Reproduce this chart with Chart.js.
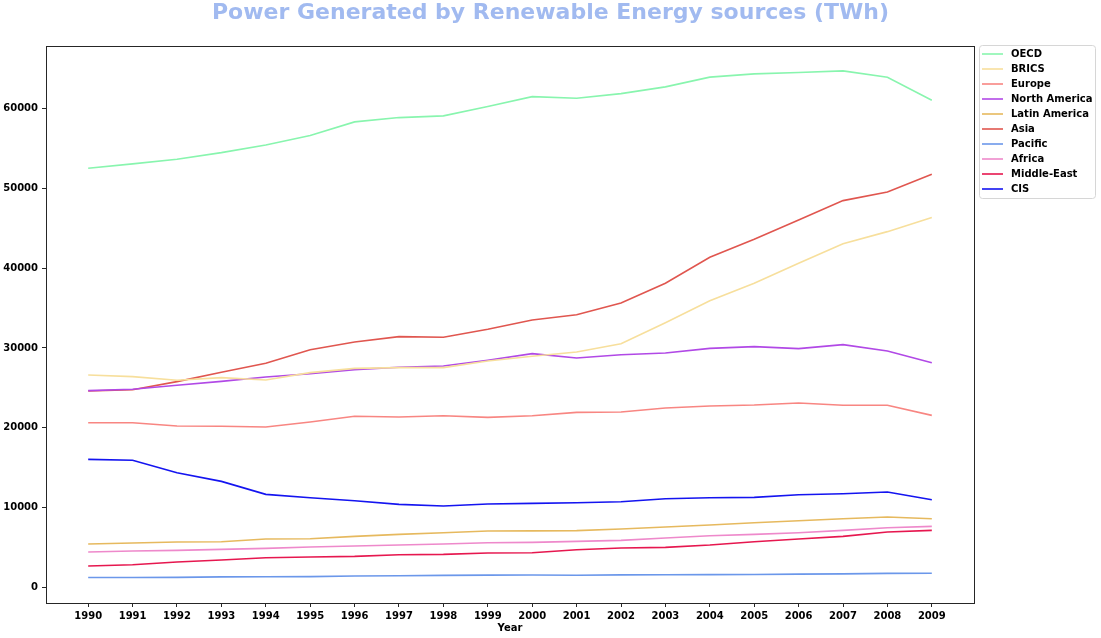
<!DOCTYPE html>
<html>
<head>
<meta charset="utf-8">
<title>Power Generated by Renewable Energy sources</title>
<script src="https://cdn.jsdelivr.net/npm/chart.js@4.4.0/dist/chart.umd.min.js"></script>
<style>
  html, body { margin: 0; padding: 0; background: #ffffff; }
  #wrap { width: 1101px; height: 638px; }
</style>
</head>
<body>
<div id="wrap"><canvas id="energyChart" width="1101" height="638"></canvas></div>
<script>
const years = [1990, 1991, 1992, 1993, 1994, 1995, 1996, 1997, 1998, 1999,
               2000, 2001, 2002, 2003, 2004, 2005, 2006, 2007, 2008, 2009];

const oecd         = [52550, 53090, 53670, 54500, 55470, 56640, 58360, 58900, 59110, 60280, 61530, 61330, 61910, 62750, 63970, 64380, 64550, 64760, 63970, 61080];
const brics        = [26610, 26400, 25940, 26270, 25980, 26900, 27440, 27530, 27530, 28360, 28950, 29490, 30530, 33170, 35930, 38110, 40620, 43080, 44590, 46350];
const europe       = [20620, 20620, 20210, 20170, 20080, 20710, 21420, 21340, 21500, 21290, 21500, 21920, 21960, 22460, 22720, 22840, 23090, 22800, 22800, 21540];
const northAmerica = [24640, 24810, 25310, 25810, 26360, 26770, 27280, 27570, 27740, 28450, 29280, 28740, 29150, 29370, 29950, 30160, 29910, 30410, 29620, 28150];
const latinAmerica = [5400, 5520, 5650, 5690, 6020, 6060, 6360, 6610, 6820, 7030, 7050, 7080, 7280, 7530, 7780, 8070, 8320, 8570, 8790, 8570];
const asia         = [24600, 24760, 25770, 26940, 28070, 29780, 30750, 31420, 31340, 32340, 33510, 34170, 35640, 38110, 41380, 43630, 46060, 48480, 49570, 51790];
const pacific      = [1200, 1190, 1220, 1280, 1300, 1310, 1380, 1420, 1470, 1500, 1510, 1490, 1530, 1540, 1560, 1570, 1620, 1660, 1720, 1730];
const africa       = [4390, 4520, 4600, 4730, 4850, 5020, 5150, 5270, 5400, 5560, 5610, 5730, 5860, 6150, 6440, 6610, 6820, 7110, 7450, 7610];
const middleEast   = [2640, 2800, 3140, 3390, 3680, 3770, 3850, 4060, 4100, 4270, 4310, 4690, 4900, 4980, 5270, 5690, 6020, 6360, 6900, 7110];
const cis          = [16020, 15900, 14350, 13260, 11630, 11210, 10830, 10370, 10170, 10420, 10500, 10580, 10710, 11080, 11210, 11250, 11590, 11710, 11920, 10960];

const seriesNames  = ['OECD', 'BRICS', 'Europe', 'North America', 'Latin America', 'Asia', 'Pacific', 'Africa', 'Middle-East', 'CIS'];
const seriesValues = [oecd, brics, europe, northAmerica, latinAmerica, asia, pacific, africa, middleEast, cis];
const seriesColors = ['#88f5ae', '#f7df9c', '#f88682', '#b149e6', '#e6b95e', '#e0564f', '#6b97ea', '#ee89cb', '#e6174f', '#1414f0'];

const yTicks = [0, 10000, 20000, 30000, 40000, 50000, 60000];
const fontFamily = '"DejaVu Sans", sans-serif';

// reserve room on the right for the legend without shifting the title
const rightSpacer = {
    id: 'rightSpacer',
    beforeInit(chart) {
        Chart.layouts.addBox(chart, {
            position: 'right',
            weight: 1000,
            fullSize: false,
            options: {},
            width: 127, height: 0,
            left: 0, top: 0, right: 0, bottom: 0,
            update(maxWidth, maxHeight) {
                this.width = 127;
                this.height = maxHeight;
            },
            getPadding() { return { left: 0, top: 0, right: 0, bottom: 0 }; },
            isHorizontal() { return false; },
            draw() {}
        });
    }
};

// frame around the plot area (matplotlib style)
const frameBox = {
    id: 'frameBox',
    afterDatasetsDraw(chart) {
        const { ctx, chartArea: a } = chart;
        ctx.save();
        ctx.strokeStyle = '#262626';
        ctx.lineWidth = 1;
        ctx.strokeRect(Math.round(a.left) + 0.5, Math.round(a.top) + 0.5,
                       Math.round(a.right - a.left), Math.round(a.bottom - a.top));
        ctx.restore();
    }
};

// legend drawn outside the plot, top right, with a light frame
const boxLegend = {
    id: 'boxLegend',
    afterDraw(chart) {
        const ctx = chart.ctx;
        const left = 979.5, top = 45.5, w = 116, h = 153, r = 3;
        ctx.save();
        ctx.beginPath();
        ctx.moveTo(left + r, top);
        ctx.lineTo(left + w - r, top);
        ctx.arcTo(left + w, top, left + w, top + r, r);
        ctx.lineTo(left + w, top + h - r);
        ctx.arcTo(left + w, top + h, left + w - r, top + h, r);
        ctx.lineTo(left + r, top + h);
        ctx.arcTo(left, top + h, left, top + h - r, r);
        ctx.lineTo(left, top + r);
        ctx.arcTo(left, top, left + r, top, r);
        ctx.closePath();
        ctx.fillStyle = 'rgba(255,255,255,0.8)';
        ctx.fill();
        ctx.strokeStyle = '#d6d6d6';
        ctx.lineWidth = 1;
        ctx.stroke();

        ctx.font = 'bold 10px ' + fontFamily;
        ctx.textBaseline = 'middle';
        ctx.textAlign = 'left';
        chart.data.datasets.forEach((ds, i) => {
            const y = 54 + i * 15;
            ctx.globalAlpha = 0.8;
            ctx.strokeStyle = ds.borderColor;
            ctx.lineWidth = 2;
            ctx.beginPath();
            ctx.moveTo(982, y);
            ctx.lineTo(1003, y);
            ctx.stroke();
            ctx.globalAlpha = 1;
            ctx.fillStyle = '#000000';
            ctx.fillText(ds.label, 1011, y + 0.5);
        });
        ctx.restore();
    }
};

const ctx = document.getElementById('energyChart').getContext('2d');
const energyChart = new Chart(ctx, {
    type: 'line',
    data: {
        datasets: seriesNames.map((name, i) => ({
            label: name,
            data: years.map((yr, j) => ({ x: yr, y: seriesValues[i][j] })),
            borderColor: seriesColors[i],
            backgroundColor: seriesColors[i],
            borderWidth: 1.6,
            pointRadius: 0,
            tension: 0,
            fill: false
        }))
    },
    options: {
        responsive: false,
        animation: false,
        layout: {
            padding: 0
        },
        scales: {
            x: {
                type: 'linear',
                min: 1989.05,
                max: 2009.95,
                afterFit(scale) { scale.height = 35; },
                afterBuildTicks(scale) { scale.ticks = years.map(v => ({ value: v })); },
                grid: { drawOnChartArea: false, drawTicks: true, tickLength: 4, color: '#262626' },
                border: { display: true, color: '#262626', width: 1 },
                ticks: {
                    autoSkip: false,
                    maxRotation: 0,
                    padding: 3,
                    color: '#000000',
                    font: { family: fontFamily, size: 10, weight: 'bold' },
                    callback: value => String(value)
                },
                title: {
                    display: true,
                    text: 'Year',
                    color: '#000000',
                    padding: { top: 2, bottom: 4 },
                    font: { family: fontFamily, size: 10, weight: 'bold' }
                }
            },
            y: {
                min: -2000,
                max: 67880,
                afterFit(scale) { scale.width = 46; },
                afterBuildTicks(scale) { scale.ticks = yTicks.map(v => ({ value: v })); },
                grid: { drawOnChartArea: false, drawTicks: true, tickLength: 4, color: '#262626' },
                border: { display: true, color: '#262626', width: 1 },
                ticks: {
                    padding: 4,
                    color: '#000000',
                    font: { family: fontFamily, size: 10, weight: 'bold' },
                    callback: value => String(value)
                }
            }
        },
        plugins: {
            legend: { display: false },
            tooltip: { enabled: false },
            title: {
                display: true,
                text: 'Power Generated by Renewable Energy sources (TWh)',
                color: '#a1baf0',
                padding: { top: 0, bottom: 19.6 },
                font: { family: fontFamily, size: 22, weight: 'bold' }
            }
        }
    },
    plugins: [rightSpacer, frameBox, boxLegend]
});
</script>
</body>
</html>
